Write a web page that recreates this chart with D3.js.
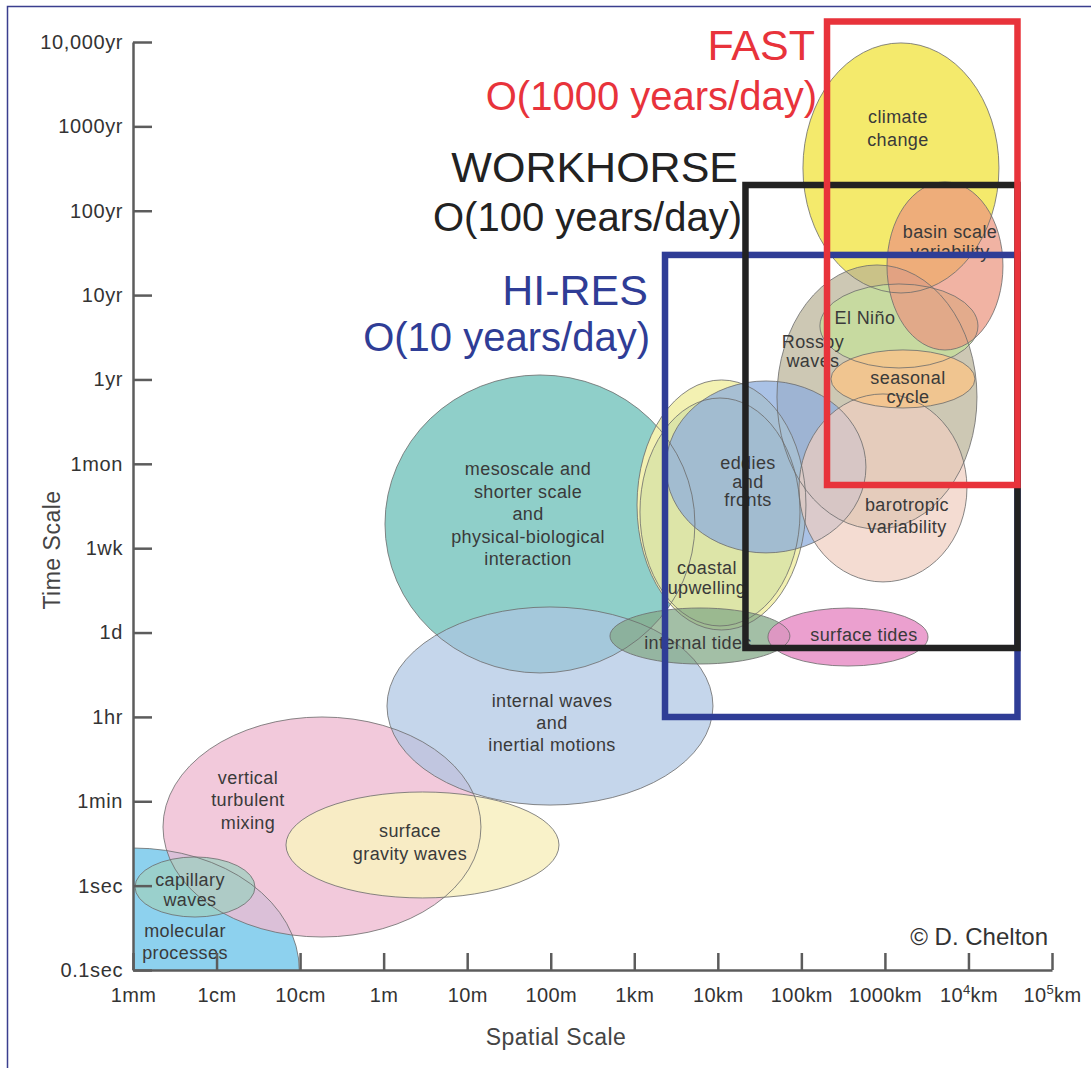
<!DOCTYPE html>
<html><head><meta charset="utf-8">
<script src="https://cdn.jsdelivr.net/npm/d3@7"></script>
<style>
html,body{margin:0;padding:0;background:#fff;}
svg{display:block;}
text{font-family:"Liberation Sans",Arial,Helvetica,sans-serif;}
</style></head><body>
<svg id="chart" width="1091" height="1068"></svg>
<script>
// ---------- tick labels ----------
const timeTicks = ["0.1sec","1sec","1min","1hr","1d","1wk","1mon","1yr","10yr","100yr","1000yr","10,000yr"];
const spaceTickValues = [-3,-2,-1,0,1,2,3,4,5,6,7,8];           // log10(metres)
const spaceTicks = [["1mm"],["1cm"],["10cm"],["1m"],["10m"],["100m"],["1km"],["10km"],["100km"],["1000km"],["10","4","km"],["10","5","km"]];

// ---------- phenomena (draw order) ----------
const phenomena = ["molecular processes","vertical turbulent mixing","capillary waves","surface gravity waves",
  "mesoscale","internal waves","climate change","Rossby waves","coastal upwelling","coastal upwelling core",
  "eddies and fronts","barotropic variability","internal tides","surface tides","El Niño","seasonal cycle","basin scale variability"];
const spatialCenter    = [-3.0,-0.738,-2.258,0.465, 1.871,1.991,6.192,5.905,4.044,4.026, 4.576,5.977,3.786,5.558,6.168,6.216,6.719]; // log10 m
const spatialHalfWidth = [1.99, 1.903, 0.718,1.634, 1.855,1.951,1.173,1.197,1.011,0.958, 1.197,1.005,1.077,0.958,0.946,0.862,0.694]; // decades
const timeCenter       = [0.0, 1.695, 0.984,1.482, 5.287,3.129,9.507,6.792,5.512,5.429, 5.963,5.714,3.959,3.947,7.634,7.006,8.345]; // time-axis index
const timeHalfHeight   = [1.446,1.304,0.356,0.628, 1.766,1.174,1.482,1.565,1.482,1.351, 1.019,1.114,0.332,0.344,0.498,0.344,0.996];

const labelLines = [["molecular","processes"],["vertical","turbulent","mixing"],["capillary","waves"],["surface","gravity waves"],
  ["mesoscale and","shorter scale","and","physical-biological","interaction"],["internal waves","and","inertial motions"],
  ["climate","change"],["Rossby","waves"],["coastal","upwelling"],[],["eddies","and","fronts"],["barotropic","variability"],
  ["internal tides"],["surface tides"],["El Niño"],["seasonal","cycle"],["basin scale","variability"]];
const labelSpatial = [-2.378,-1.624,-2.318,0.315, 1.728,2.015,6.156,5.139,3.870,0, 4.361,6.264,3.763,5.749,5.761,6.276,6.779];
const labelTime    = [0.332, 2.015, 0.948,1.517, 5.405,2.928,9.975,7.326,4.647,0, 5.785,5.382,3.876,3.971,7.729,6.905,8.630];

// ---------- model classes ----------
const classes = ["HI-RES","WORKHORSE","FAST"];
const classRates = ["O(10 years/day)","O(100 years/day)","O(1000 years/day)"];
const classSpatialMin = [3.368,4.331,5.307];
const classSpatialMax = [7.587,7.587,7.587];
const classTimeMin = [2.999,3.817,5.749];
const classTimeMax = [8.476,9.305,11.243];
const classTitleSpatial = [[3.164,3.188],[4.242,4.290],[5.163,5.187]];
const classTitleTime = [[7.883,7.338],[9.341,8.760],[10.787,10.194]];

// ---------- styles ----------
const fillColor = ["#8dd1ee","#efbcd2","#9fcfc0","#f8f0c2","#8fcfc9","#adc4e2","#f4ea6c","#b8b094","#f3f1b2","#dde5a8",
  "#8eaedd","#efcdbf","#84a988","#e88fc7","#c5dd9c","#f4c48c","#ec9680"];
const fillOpacity = [1,0.8,0.75,0.88,1,0.7,1,0.7,1,1,0.75,0.7,0.75,0.85,0.85,0.9,0.72];
const labelLineHeight = [22,22.5,20,23,22.5,22,23,19,19.5,0,18.5,22,0,0,0,19,20];
const classColor = ["#2f3d96","#222222","#e8333b"];

const W = 1091, H = 1068;
const svg = d3.select("#chart");
const x = d3.scaleLinear().domain([-3, 8]).range([133, 1052]);
const y = d3.scaleLinear().domain([0, 11]).range([970, 42]);
const FONT = "Liberation Sans, Arial, Helvetica, sans-serif";

// page frame
svg.append("path").attr("d", `M7.5,${H} V6.5 H${W}`).attr("fill","none")
  .attr("stroke","#3a3f8e").attr("stroke-width",1.5);

svg.append("defs").append("clipPath").attr("id","plot").append("rect")
  .attr("x", x(-3)).attr("y", 0).attr("width", W - x(-3)).attr("height", y(0));

const ell = phenomena.map((name,i)=>({name,i,cx:spatialCenter[i],rx:spatialHalfWidth[i],cy:timeCenter[i],ry:timeHalfHeight[i]}));
const gE = svg.append("g").attr("clip-path","url(#plot)");
const place = sel => sel.attr("cx", d=>x(d.cx)).attr("cy", d=>y(d.cy))
  .attr("rx", d=>x(d.cx+d.rx)-x(d.cx)).attr("ry", d=>y(d.cy)-y(d.cy+d.ry));
gE.selectAll("ellipse.fill").data(ell).join("ellipse").attr("class","fill").call(place)
  .attr("fill", d=>fillColor[d.i]).attr("fill-opacity", d=>fillOpacity[d.i]);
gE.selectAll("ellipse.edge").data(ell).join("ellipse").attr("class","edge").call(place)
  .attr("fill","none").attr("stroke","#6c6c6c").attr("stroke-width",0.9).attr("stroke-opacity",0.9);

// labels
const gL = svg.append("g").attr("font-family",FONT).attr("font-size",18).attr("fill","#3a3a3a")
  .attr("letter-spacing","0.4px").attr("text-anchor","middle");
ell.forEach(d=>{
  const lines = labelLines[d.i]; if(!lines.length) return;
  const cx = x(labelSpatial[d.i]), cy = y(labelTime[d.i]), lh = labelLineHeight[d.i];
  lines.forEach((t,k)=>{
    gL.append("text").attr("x",cx).attr("y", cy + (k-(lines.length-1)/2)*lh)
      .attr("dominant-baseline","central").text(t);
  });
});

// axes
const yAxis = d3.axisLeft(y).tickValues(d3.range(12)).tickFormat(i=>timeTicks[i])
  .tickSizeInner(-19).tickSizeOuter(0).tickPadding(10);
const gy = svg.append("g").attr("transform",`translate(${x(-3)},0)`).call(yAxis)
  .attr("font-family",FONT).attr("font-size",20);
gy.select(".domain").attr("stroke","#5c5c5c").attr("stroke-width",2.5);
gy.selectAll(".tick line").attr("stroke","#5c5c5c").attr("stroke-width",2.5);
gy.selectAll(".tick text").attr("fill","#333").attr("letter-spacing","0.6px");

const xAxis = d3.axisBottom(x).tickValues(spaceTickValues).tickFormat(()=>"")
  .tickSizeInner(-17).tickSizeOuter(0).tickPadding(18);
const gx = svg.append("g").attr("transform",`translate(0,${y(0)})`).call(xAxis)
  .attr("font-family",FONT).attr("font-size",20);
gx.select(".domain").attr("stroke","#5c5c5c").attr("stroke-width",2.5);
gx.selectAll(".tick line").attr("stroke","#5c5c5c").attr("stroke-width",2.5);
gx.selectAll(".tick text").attr("fill","#333").attr("letter-spacing","0.4px").each(function(v,i){
  const t = d3.select(this), parts = spaceTicks[i];
  t.text(null);
  if(parts.length===1){ t.text(parts[0]); return; }
  t.append("tspan").text(parts[0]);
  t.append("tspan").attr("font-size",13).attr("dy",-8).text(parts[1]);
  t.append("tspan").attr("dy",8).text(parts[2]);
});

// axis titles
svg.append("text").attr("transform",`translate(52,${(y(0)+y(11))/2+44}) rotate(-90)`)
  .attr("text-anchor","middle").attr("dominant-baseline","central")
  .attr("font-family",FONT).attr("font-size",23).attr("fill","#444").attr("letter-spacing","0.5px").text("Time Scale");
svg.append("text").attr("x",556).attr("y",1037).attr("text-anchor","middle").attr("dominant-baseline","central")
  .attr("font-family",FONT).attr("font-size",23).attr("fill","#444").attr("letter-spacing","0.5px").text("Spatial Scale");

// credit
svg.append("text").attr("x",x(8)-4).attr("y",y(0)-25).attr("text-anchor","end")
  .attr("font-family",FONT).attr("font-size",24).attr("fill","#333").text("© D. Chelton");

// model class boxes
classes.forEach((c,i)=>{
  svg.append("rect").attr("x",x(classSpatialMin[i])).attr("y",y(classTimeMax[i]))
    .attr("width",x(classSpatialMax[i])-x(classSpatialMin[i])).attr("height",y(classTimeMin[i])-y(classTimeMax[i]))
    .attr("fill","none").attr("stroke",classColor[i]).attr("stroke-width",6.5);
});
classes.forEach((c,i)=>{
  svg.append("text").attr("x",x(classTitleSpatial[i][0])).attr("y",y(classTitleTime[i][0]))
    .attr("text-anchor","end").attr("font-family",FONT).attr("font-size",43).attr("fill",classColor[i]).text(c);
  svg.append("text").attr("x",x(classTitleSpatial[i][1])).attr("y",y(classTitleTime[i][1]))
    .attr("text-anchor","end").attr("font-family",FONT).attr("font-size",40).attr("fill",classColor[i]).text(classRates[i]);
});
</script>
</body></html>
